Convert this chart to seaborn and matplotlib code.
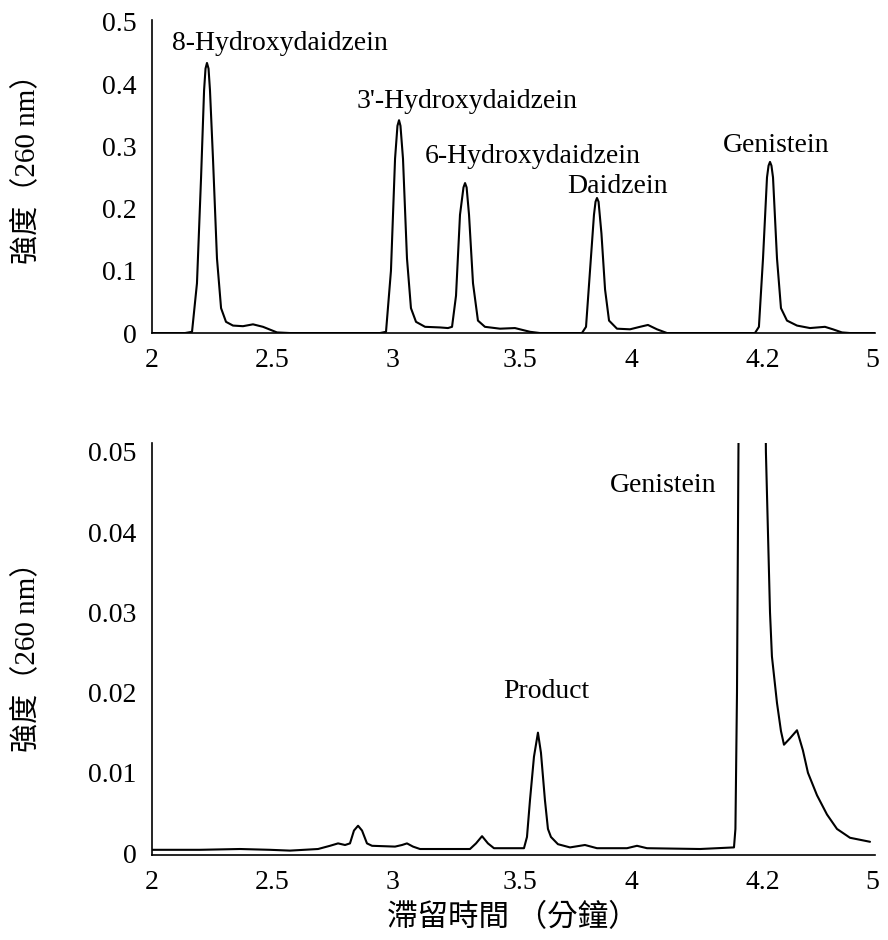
import numpy as np
import pandas as pd
import matplotlib
matplotlib.use("Agg")
import matplotlib.pyplot as plt
import seaborn as sns

# Eje X: posiciones equiespaciadas con etiquetas no lineales (como en la figura original)
tick_pos = [0, 1.0, 2.0, 3.05, 3.98, 5.07, 5.98]
tick_labels = ["2", "2.5", "3", "3.5", "4", "4.2", "5"]

# Cromatograma de estándares (panel superior)
std_pos = [0.00, 0.274, 0.332, 0.373, 0.407, 0.432, 0.444, 0.456, 0.469, 0.481, 0.506, 0.539,
           0.573, 0.614, 0.672, 0.755, 0.838, 0.921, 1.037, 1.145,
           1.892, 1.942, 1.983, 2.017, 2.037, 2.050, 2.062, 2.083, 2.116, 2.149, 2.191, 2.266,
           2.390, 2.456, 2.490, 2.523, 2.556, 2.585, 2.598, 2.611, 2.631, 2.664, 2.705, 2.763,
           2.888, 3.012, 3.137, 3.220,
           3.568, 3.602, 3.635, 3.668, 3.681, 3.693, 3.706, 3.730, 3.760, 3.793, 3.859, 3.967,
           4.050, 4.116, 4.191, 4.274,
           5.004, 5.037, 5.071, 5.104, 5.117, 5.129, 5.141, 5.154, 5.187, 5.220, 5.270, 5.353,
           5.461, 5.585, 5.651, 5.726, 5.793, 6.00]
std_abs = [0, 0, 0.002, 0.08, 0.25, 0.39, 0.425, 0.434, 0.425, 0.39, 0.28, 0.12,
           0.04, 0.018, 0.012, 0.011, 0.014, 0.010, 0.001, 0,
           0, 0.002, 0.10, 0.28, 0.333, 0.342, 0.333, 0.28, 0.12, 0.04, 0.018, 0.010,
           0.009, 0.008, 0.010, 0.06, 0.19, 0.234, 0.241, 0.234, 0.19, 0.08, 0.02, 0.010,
           0.007, 0.008, 0.002, 0,
           0, 0.010, 0.10, 0.19, 0.211, 0.217, 0.211, 0.16, 0.07, 0.02, 0.007, 0.006,
           0.010, 0.013, 0.006, 0,
           0, 0.010, 0.12, 0.25, 0.269, 0.275, 0.269, 0.25, 0.12, 0.04, 0.02, 0.012,
           0.008, 0.010, 0.006, 0.001, 0, 0]

# Cromatograma de la reacción (panel inferior)
rxn_pos = [0.00, 0.398, 0.730, 0.979, 1.145, 1.378, 1.477, 1.544, 1.602, 1.643,
           1.676, 1.710, 1.743, 1.784, 1.826, 2.017, 2.075, 2.116, 2.166, 2.224,
           2.639, 2.689, 2.739, 2.788, 2.838, 3.087, 3.112, 3.137, 3.170, 3.203,
           3.228, 3.261, 3.286, 3.311, 3.369, 3.469, 3.593, 3.693, 3.942, 4.025,
           4.108, 4.548, 4.830, 4.842, 4.855, 4.867, 4.979, 5.095, 5.112, 5.129,
           5.145, 5.187, 5.220, 5.245, 5.295, 5.353, 5.402, 5.444, 5.519, 5.602,
           5.685, 5.793, 5.959]
rxn_abs = [0.0004, 0.0004, 0.0005, 0.0004, 0.0003, 0.0005, 0.0009, 0.0012, 0.0010, 0.0012,
           0.0028, 0.0034, 0.0028, 0.0012, 0.0009, 0.0008, 0.0010, 0.0012, 0.0008, 0.0005,
           0.0005, 0.0012, 0.0021, 0.0012, 0.0006, 0.0006, 0.0020, 0.0066, 0.0120, 0.0150,
           0.0125, 0.0066, 0.0030, 0.0020, 0.0011, 0.0007, 0.0010, 0.0006, 0.0006, 0.0009,
           0.0006, 0.0005, 0.0007, 0.0030, 0.0200, 0.0500, 0.2600, 0.0500, 0.0400, 0.0300,
           0.0245, 0.0187, 0.0152, 0.0135, 0.0143, 0.0153, 0.0128, 0.0100, 0.0072, 0.0048,
           0.0030, 0.0019, 0.0014]

std_peaks = ["8-Hydroxydaidzein", "3'-Hydroxydaidzein", "6-Hydroxydaidzein", "Daidzein", "Genistein"]
std_label_xy = [(0.166, 0.455), (1.701, 0.362), (2.266, 0.273), (3.444, 0.225), (4.739, 0.291)]
rxn_peaks = ["Product", "Genistein"]
rxn_label_xy = [(2.913, 0.0193), (3.801, 0.0450)]

ylabel = "強度（260 nm）"
xlabel = "滯留時間 （分鐘）"

sns.set_style("white")
plt.rcParams["font.family"] = ["Liberation Serif", "Noto Sans CJK TC"]
plt.rcParams["axes.linewidth"] = 1.2
plt.rcParams["text.color"] = "black"
plt.rcParams["axes.labelcolor"] = "black"

fig = plt.figure(figsize=(8.88, 9.40), dpi=100)
ax1 = fig.add_axes([0.1712, 0.6457, 0.8141, 0.3330])
ax2 = fig.add_axes([0.1712, 0.0904, 0.8141, 0.4383])

df_std = pd.DataFrame({"pos": std_pos, "abs": std_abs})
df_rxn = pd.DataFrame({"pos": rxn_pos, "abs": rxn_abs})

sns.lineplot(data=df_std, x="pos", y="abs", ax=ax1, color="black", lw=1.5, estimator=None)
sns.lineplot(data=df_rxn, x="pos", y="abs", ax=ax2, color="black", lw=1.5, estimator=None)

ax1.set_ylim(0, 0.503)
ax1.set_yticks([0, 0.1, 0.2, 0.3, 0.4, 0.5])
ax1.set_yticklabels(["0", "0.1", "0.2", "0.3", "0.4", "0.5"])
ax2.set_ylim(-0.00025, 0.0511)
ax2.set_yticks([0, 0.01, 0.02, 0.03, 0.04, 0.05])
ax2.set_yticklabels(["0", "0.01", "0.02", "0.03", "0.04", "0.05"])

for ax in (ax1, ax2):
    ax.set_xlim(0, 6)
    ax.set_xticks(tick_pos)
    ax.set_xticklabels(tick_labels)
    ax.tick_params(axis="both", length=0, labelsize=20, pad=11, colors="black")
    ax.set_xlabel("")
    ax.set_ylabel(ylabel, fontsize=21, color="black")
    sns.despine(ax=ax)
    for s in ("left", "bottom"):
        ax.spines[s].set_color("black")

ax1.yaxis.set_label_coords(-0.154, 0.546)
ax2.yaxis.set_label_coords(-0.154, 0.498)

for name, (x, y) in zip(std_peaks, std_label_xy):
    ax1.text(x, y, name, fontsize=20, ha="left", va="baseline", color="black")
for name, (x, y) in zip(rxn_peaks, rxn_label_xy):
    ax2.text(x, y, name, fontsize=20, ha="left", va="baseline", color="black")

ax2.set_xlabel(xlabel, fontsize=22, color="black")
ax2.xaxis.set_label_coords(0.499, -0.118)

fig.savefig("out.png", dpi=100)
